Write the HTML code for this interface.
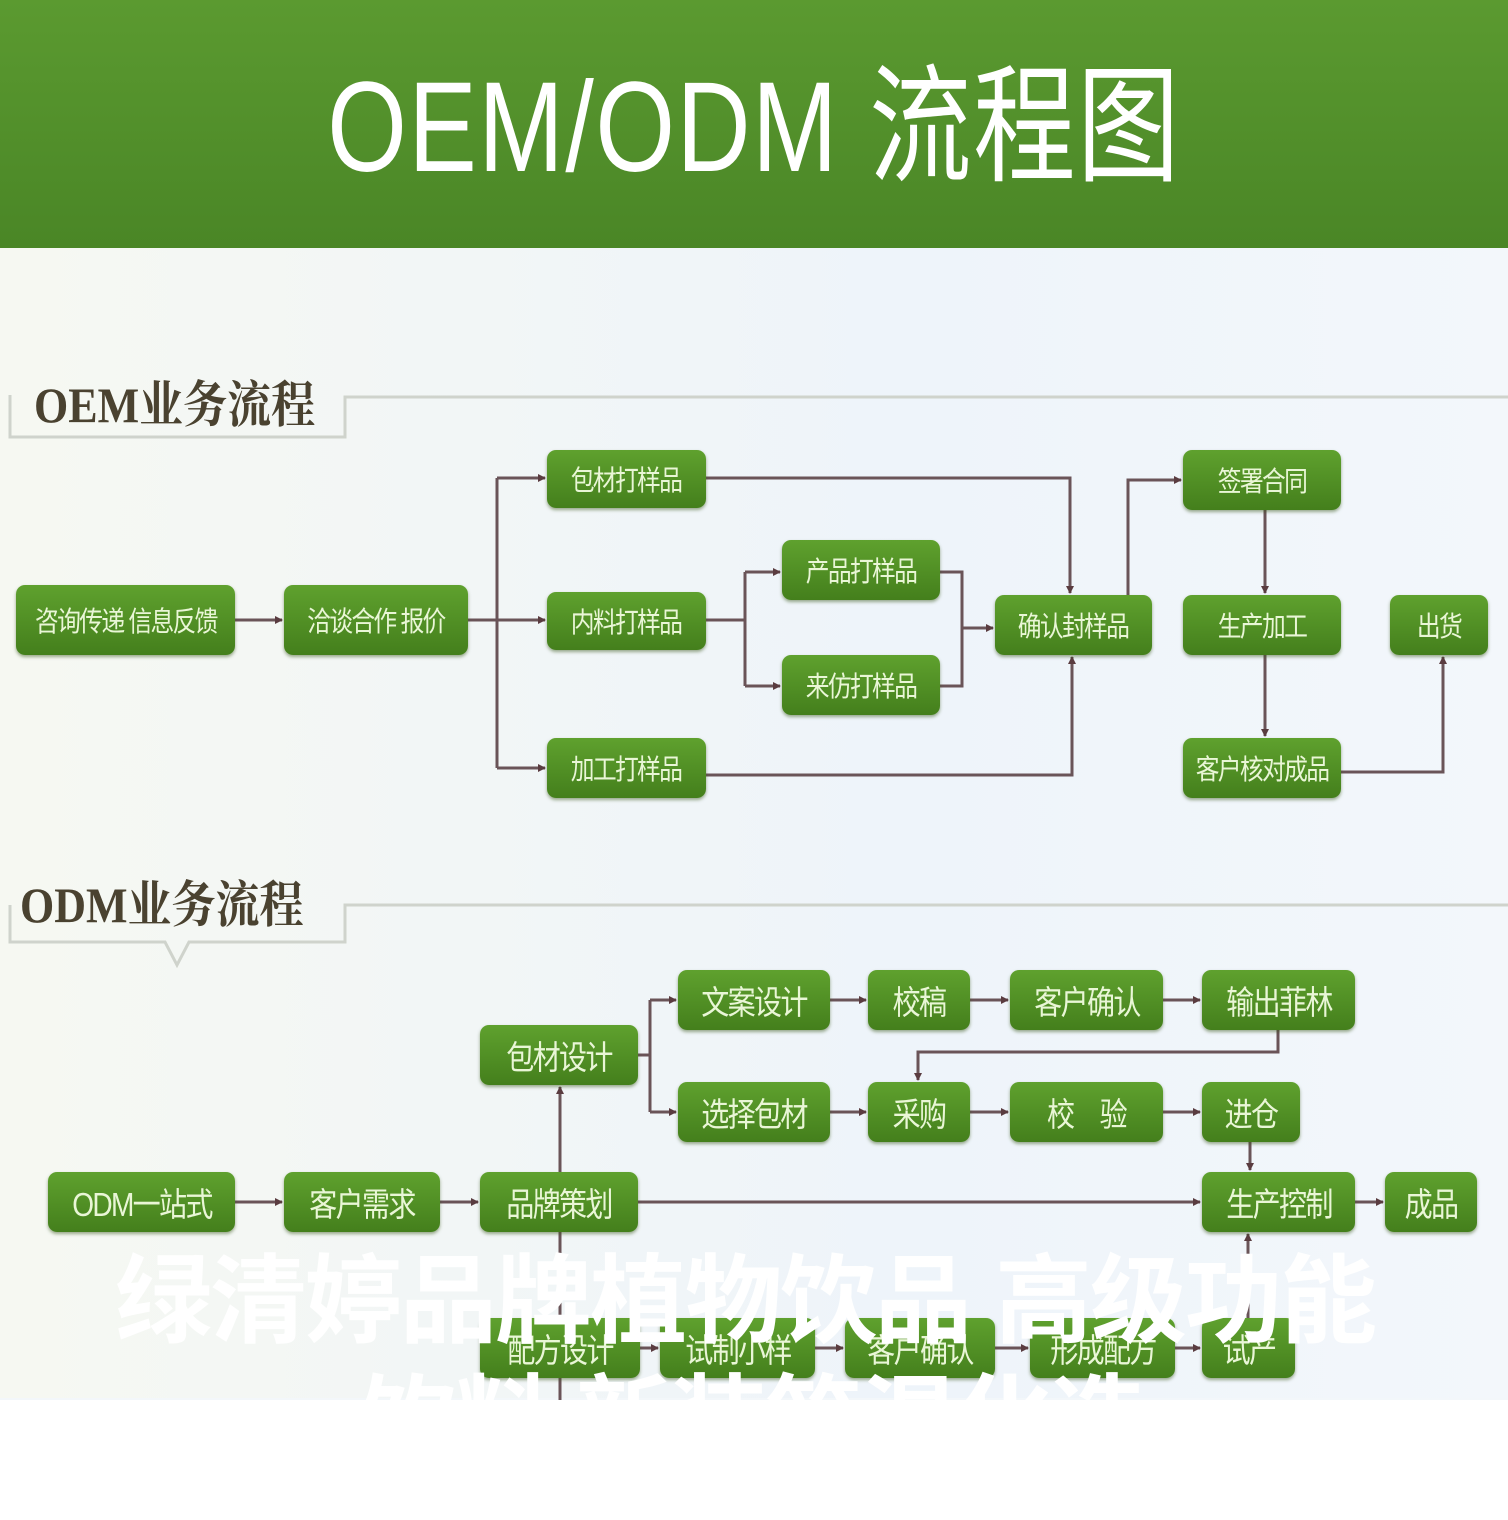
<!DOCTYPE html>
<html><head><meta charset="utf-8"><style>
body{margin:0;width:1508px;height:1520px;position:relative;overflow:hidden;background:#f3f7fa;font-family:"Liberation Sans","Noto Sans CJK SC",sans-serif}
.hd{position:absolute;left:0;top:0;width:1508px;height:248px;background:linear-gradient(#5b9a30,#4a8626);}
.hd div{position:absolute;left:0;width:1508px;top:55px;text-align:center;color:#fff;font-size:128px;line-height:145px;letter-spacing:2px;transform:scaleX(0.8);transform-origin:755px 0}
.b{position:absolute;background:linear-gradient(#5fa12e,#447f1c);border-radius:9px;color:#e9f6d6;font-size:28px;display:flex;align-items:center;justify-content:center;box-shadow:0 2px 3px rgba(60,90,30,.5);white-space:nowrap;letter-spacing:-2px}
.b span{display:inline-block;transform:scaleX(0.85)}
.lab{position:absolute;font-family:"Liberation Serif","Noto Serif CJK SC",serif;font-weight:bold;color:#4a4230;font-size:50px;transform:scaleX(0.88);transform-origin:0 0}
.ov{position:absolute;color:#fff;font-weight:bold;font-size:97px;white-space:nowrap;letter-spacing:-2px}
</style></head><body>
<div class="hd"><div>OEM/ODM 流程图</div></div>
<div style="position:absolute;left:0;top:248px;width:1508px;height:1150px;background:linear-gradient(90deg,#f6f8f2,#eef4fa 60%,#f3f7fb)"></div>
<svg style="position:absolute;left:0;top:0" width="1508" height="1520">
<defs><marker id="a" markerWidth="8" markerHeight="8" refX="7" refY="4" orient="auto" markerUnits="userSpaceOnUse"><path d="M0,0L8,4L0,8z" fill="#5a3c40"/></marker></defs>
<g stroke="#6a5458" stroke-width="3" fill="none">
<path d="M10,395V437H345V397H1508" stroke="#cfd3cc"/>
<path d="M10,905V942H165L177,965L189,942H345V905H1508" stroke="#cfd3cc"/>
<path d="M235,620H282" marker-end="url(#a)"/>
<path d="M468,620H545" marker-end="url(#a)"/>
<path d="M497,478V768"/>
<path d="M497,478H545" marker-end="url(#a)"/>
<path d="M497,768H545" marker-end="url(#a)"/>
<path d="M706,478H1070V593" marker-end="url(#a)"/>
<path d="M706,775H1072V657" marker-end="url(#a)"/>
<path d="M706,620H745"/>
<path d="M745,572V686"/>
<path d="M745,572H780" marker-end="url(#a)"/>
<path d="M745,686H780" marker-end="url(#a)"/>
<path d="M940,572H962V686H940"/>
<path d="M962,628H993" marker-end="url(#a)"/>
<path d="M1128,595V480H1181" marker-end="url(#a)"/>
<path d="M1265,510V593" marker-end="url(#a)"/>
<path d="M1265,655V736" marker-end="url(#a)"/>
<path d="M1341,772H1443V657" marker-end="url(#a)"/>
<path d="M235,1202H282" marker-end="url(#a)"/>
<path d="M440,1202H478" marker-end="url(#a)"/>
<path d="M638,1202H1200" marker-end="url(#a)"/>
<path d="M560,1400V1087" marker-end="url(#a)"/>
<path d="M638,1055H650"/>
<path d="M650,1000V1112"/>
<path d="M650,1000H676" marker-end="url(#a)"/>
<path d="M650,1112H676" marker-end="url(#a)"/>
<path d="M830,1000H866" marker-end="url(#a)"/>
<path d="M970,1000H1008" marker-end="url(#a)"/>
<path d="M1163,1000H1200" marker-end="url(#a)"/>
<path d="M830,1112H866" marker-end="url(#a)"/>
<path d="M970,1112H1008" marker-end="url(#a)"/>
<path d="M1163,1112H1200" marker-end="url(#a)"/>
<path d="M1278,1030V1052H918V1080" marker-end="url(#a)"/>
<path d="M1250,1142V1170" marker-end="url(#a)"/>
<path d="M1355,1202H1383" marker-end="url(#a)"/>
<path d="M1248,1318V1234" marker-end="url(#a)"/>
<path d="M640,1348H658" marker-end="url(#a)"/>
<path d="M815,1348H843" marker-end="url(#a)"/>
<path d="M995,1348H1028" marker-end="url(#a)"/>
<path d="M1175,1348H1200" marker-end="url(#a)"/>
</g></svg>
<div class="lab" style="left:34px;top:365px">OEM业务流程</div>
<div class="lab" style="left:20px;top:865px">ODM业务流程</div>

<div class="b" style="left:16px;top:585px;width:219px;height:70px"><span>咨询传递 信息反馈</span></div>
<div class="b" style="left:284px;top:585px;width:184px;height:70px"><span>洽谈合作 报价</span></div>
<div class="b" style="left:547px;top:450px;width:159px;height:58px"><span>包材打样品</span></div>
<div class="b" style="left:547px;top:592px;width:159px;height:58px"><span>内料打样品</span></div>
<div class="b" style="left:547px;top:738px;width:159px;height:60px"><span>加工打样品</span></div>
<div class="b" style="left:782px;top:540px;width:158px;height:60px"><span>产品打样品</span></div>
<div class="b" style="left:782px;top:655px;width:158px;height:60px"><span>来仿打样品</span></div>
<div class="b" style="left:995px;top:595px;width:157px;height:60px"><span>确认封样品</span></div>
<div class="b" style="left:1183px;top:450px;width:158px;height:60px"><span>签署合同</span></div>
<div class="b" style="left:1183px;top:595px;width:158px;height:60px"><span>生产加工</span></div>
<div class="b" style="left:1390px;top:595px;width:98px;height:60px"><span>出货</span></div>
<div class="b" style="left:1183px;top:738px;width:158px;height:60px"><span>客户核对成品</span></div>

<div class="b" style="left:678px;top:970px;width:152px;height:60px;font-size:33px"><span>文案设计</span></div>
<div class="b" style="left:868px;top:970px;width:102px;height:60px;font-size:33px"><span>校稿</span></div>
<div class="b" style="left:1010px;top:970px;width:153px;height:60px;font-size:33px"><span>客户确认</span></div>
<div class="b" style="left:1202px;top:970px;width:153px;height:60px;font-size:33px"><span>输出菲林</span></div>
<div class="b" style="left:480px;top:1025px;width:158px;height:60px;font-size:33px"><span>包材设计</span></div>
<div class="b" style="left:678px;top:1082px;width:152px;height:60px;font-size:33px"><span>选择包材</span></div>
<div class="b" style="left:868px;top:1082px;width:102px;height:60px;font-size:33px"><span>采购</span></div>
<div class="b" style="left:1010px;top:1082px;width:153px;height:60px;font-size:33px"><span>校　验</span></div>
<div class="b" style="left:1202px;top:1082px;width:98px;height:60px;font-size:33px"><span>进仓</span></div>
<div class="b" style="left:48px;top:1172px;width:187px;height:60px;font-size:33px"><span>ODM一站式</span></div>
<div class="b" style="left:284px;top:1172px;width:156px;height:60px;font-size:33px"><span>客户需求</span></div>
<div class="b" style="left:480px;top:1172px;width:158px;height:60px;font-size:33px"><span>品牌策划</span></div>
<div class="b" style="left:1202px;top:1172px;width:153px;height:60px;font-size:33px"><span>生产控制</span></div>
<div class="b" style="left:1385px;top:1172px;width:92px;height:60px;font-size:33px"><span>成品</span></div>
<div class="b" style="left:480px;top:1318px;width:160px;height:60px;font-size:33px"><span>配方设计</span></div>
<div class="b" style="left:660px;top:1318px;width:155px;height:60px;font-size:33px"><span>试制小样</span></div>
<div class="b" style="left:845px;top:1318px;width:150px;height:60px;font-size:33px"><span>客户确认</span></div>
<div class="b" style="left:1030px;top:1318px;width:145px;height:60px;font-size:33px"><span>形成配方</span></div>
<div class="b" style="left:1202px;top:1318px;width:93px;height:60px;font-size:33px"><span>试产</span></div>

<div class="ov" style="left:115px;top:1222px">绿清婷品牌植物饮品 高级功能</div>
<div class="ov" style="left:360px;top:1342px">饮料 新装筑混化造</div>
<div style="position:absolute;left:0;top:1400px;width:1508px;height:120px;background:#fff"></div>
</body></html>
